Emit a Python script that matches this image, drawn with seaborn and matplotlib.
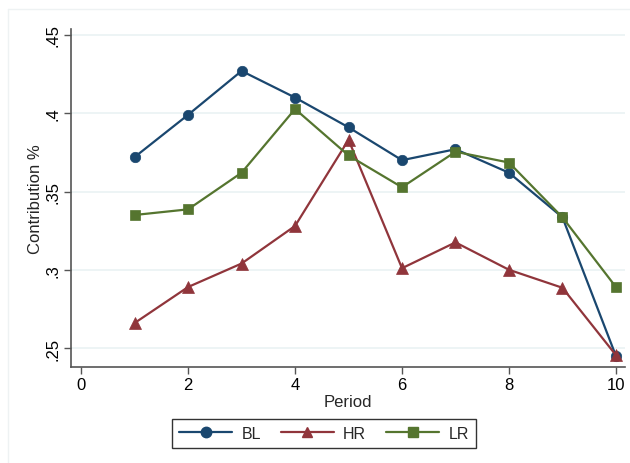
import matplotlib
matplotlib.use("Agg")
import matplotlib.pyplot as plt
import seaborn as sns
import pandas as pd
from matplotlib.lines import Line2D

period = [1, 2, 3, 4, 5, 6, 7, 8, 9, 10]
bl = [0.372, 0.399, 0.427, 0.410, 0.391, 0.370, 0.377, 0.362, 0.3335, 0.245]
hr = [0.266, 0.289, 0.304, 0.328, 0.383, 0.301, 0.3175, 0.300, 0.2885, 0.2455]
lr = [0.335, 0.3386, 0.362, 0.4027, 0.373, 0.3527, 0.3754, 0.3685, 0.3335, 0.289]
series = ["BL", "HR", "LR"]
colors = ["#1a476f", "#90353b", "#55752f"]
markers = ["o", "^", "s"]
xticks = [0, 2, 4, 6, 8, 10]
yticks = [0.25, 0.30, 0.35, 0.40, 0.45]
ytick_labels = [".25", ".3", ".35", ".4", ".45"]

df = pd.DataFrame({"Period": period * 3,
                   "value": bl + hr + lr,
                   "series": sum([[s] * len(period) for s in series], [])})

sns.set_theme(style="white")
plt.rcParams['font.family'] = ['Liberation Sans', 'DejaVu Sans']

fig = plt.figure(figsize=(6.3, 4.64), dpi=100)
ax = fig.add_axes([71/630, 1 - 368/464, (625 - 71)/630, (368 - 30)/464])

sns.lineplot(data=df, x="Period", y="value", hue="series", style="series",
             palette=dict(zip(series, colors)),
             markers=dict(zip(series, markers)), dashes=False,
             markersize=7.5, linewidth=1.6, markeredgewidth=0.5,
             ax=ax, legend=False)
for line, mk, c in zip(ax.lines, markers, colors):
    line.set_markeredgecolor(c)
    if mk == "^":
        line.set_markersize(8.5)

ax.set_xlim(-0.19, 10.17)
ax.set_ylim(0.2379, 0.4538)
ax.set_xticks(xticks)
ax.set_yticks(yticks)
ax.set_yticklabels(ytick_labels, rotation=90, va="center")
ax.grid(axis="y", color="#eaf2f3", linewidth=1.2)
ax.set_axisbelow(True)
for s in ["top", "right"]:
    ax.spines[s].set_visible(False)
for s in ["left", "bottom"]:
    ax.spines[s].set_color("#555555")
    ax.spines[s].set_linewidth(1.2)
ax.tick_params(axis="both", which="both", length=5, width=1, color="#555555",
               labelsize=12, labelcolor="black", direction="out", pad=2.5,
               bottom=True, left=True)
ax.set_xlabel("Period", fontsize=12, labelpad=1)
ax.set_ylabel("Contribution %", fontsize=12, labelpad=2)

handles = [Line2D([0], [0], color=c, marker=m, markersize=7.5, linewidth=1.6,
                  markeredgecolor=c) for c, m in zip(colors, markers)]
leg = fig.legend(handles, series, loc="center", bbox_to_anchor=(324/630, 1 - 434.5/464),
                 ncol=3, frameon=True, fancybox=False, fontsize=11.5,
                 handlelength=3.3, columnspacing=1.25, handletextpad=0.6,
                 borderpad=0.42, borderaxespad=0, edgecolor="black")
leg.get_frame().set_linewidth(1.0)

# faint outer graph-region border
fig.add_artist(Line2D([8/630, 8/630], [0, 1 - 10/464], transform=fig.transFigure,
                      color="#eef2f3", linewidth=1))
fig.add_artist(Line2D([8/630, 1], [1 - 10/464, 1 - 10/464], transform=fig.transFigure,
                      color="#eef2f3", linewidth=1))

fig.savefig("out.png", dpi=100)
